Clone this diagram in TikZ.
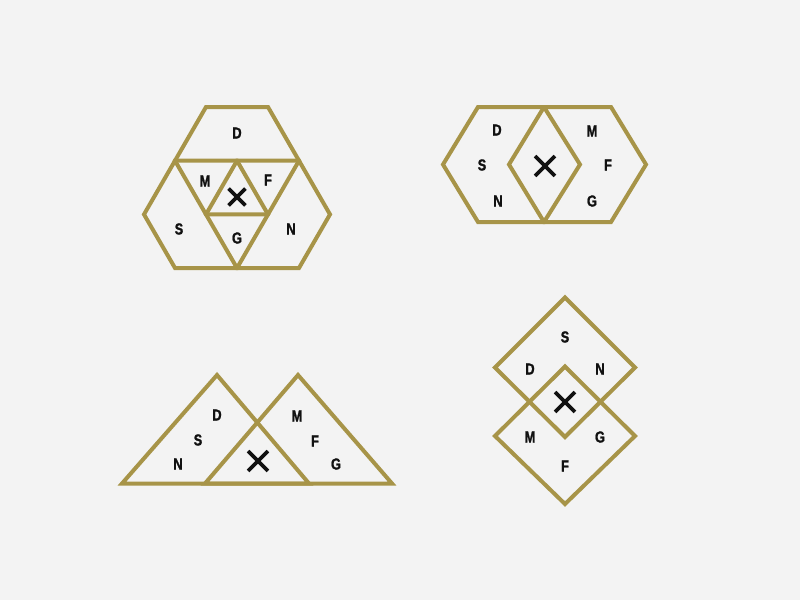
\documentclass[tikz,border=0pt]{standalone}
\usepackage{fontspec}
\newfontfamily\labfont[FakeStretch=0.8,FakeBold=1.2]{Liberation Sans}
\usetikzlibrary{shapes.misc}
\definecolor{bg}{RGB}{243,243,243}
\definecolor{gold}{RGB}{167,148,72}
\definecolor{ink}{RGB}{17,17,17}
\tikzset{
  shapeline/.style={draw=gold, line width=4pt, line join=miter},
  lab/.style={font=\labfont\bfseries\fontsize{16}{16}\selectfont, text=ink, inner sep=0pt},
  crossmark/.style={cross out, draw=ink, line width=3.8pt, minimum size=16pt, inner sep=0pt},
  smallcross/.style={crossmark, minimum size=13pt}
}
\begin{document}
\begin{tikzpicture}[x=1pt,y=-1pt]
\fill[bg] (0,0) rectangle (800,600);
\useasboundingbox (0,0) rectangle (800,600);

% ---- Figure 1: three overlapping hexagons
\draw[shapeline] (299,160.7) -- (268,107) -- (206,107) -- (175,160.7) -- (206,214.4) -- (268,214.4) -- cycle;
\draw[shapeline] (175,160.7) -- (237,160.7) -- (268,214.4) -- (237,268) -- (175,268) -- (144,214.4) -- cycle;
\draw[shapeline] (299,160.7) -- (330,214.4) -- (299,268) -- (237,268) -- (206,214.4) -- (237,160.7) -- cycle;
\node[lab] (aD) at (237,133) {D};
\node[lab] (aM) at (205,181) {M};
\node[lab] (aF) at (268,180) {F};
\node[smallcross] (aX) at (237,197) {};
\node[lab] (aS) at (179,229) {S};
\node[lab] (aG) at (237,238) {G};
\node[lab] (aN) at (291,229) {N};

% ---- Figure 2: two overlapping hexagons
\draw[shapeline] (443,164.5) -- (478,107) -- (544,107) -- (580,164.5) -- (544,222) -- (478,222) -- cycle;
\draw[shapeline] (509,164.5) -- (544,107) -- (611,107) -- (646,164.5) -- (611,222) -- (544,222) -- cycle;
\node[lab] (bD) at (497,130) {D};
\node[lab] (bS) at (482,165) {S};
\node[lab] (bN) at (498,201) {N};
\node[crossmark] (bX) at (545,166) {};
\node[lab] (bM) at (592,131) {M};
\node[lab] (bF) at (608,165) {F};
\node[lab] (bG) at (592,201) {G};

% ---- Figure 3: two overlapping triangles
\draw[shapeline] (122,483.5) -- (217,375) -- (309,483.5) -- cycle;
\draw[shapeline] (205,483.5) -- (298,375) -- (392,483.5) -- cycle;
\node[lab] (cD) at (217,415) {D};
\node[lab] (cS) at (198,440) {S};
\node[lab] (cN) at (178,464) {N};
\node[crossmark] (cX) at (258,461) {};
\node[lab] (cM) at (297,416) {M};
\node[lab] (cF) at (315,441) {F};
\node[lab] (cG) at (336,464) {G};

% ---- Figure 4: two overlapping diamonds
\draw[shapeline] (565,297.5) -- (635,367.5) -- (565,437) -- (495,367.5) -- cycle;
\draw[shapeline] (565,366.5) -- (635,436) -- (565,504) -- (495,436) -- cycle;
\node[lab] (dS) at (565,337) {S};
\node[lab] (dD) at (530,369) {D};
\node[lab] (dN) at (600,369) {N};
\node[crossmark] (dX) at (565,402) {};
\node[lab] (dM) at (530,437) {M};
\node[lab] (dG) at (600,437) {G};
\node[lab] (dF) at (565,466) {F};
\end{tikzpicture}
\end{document}
